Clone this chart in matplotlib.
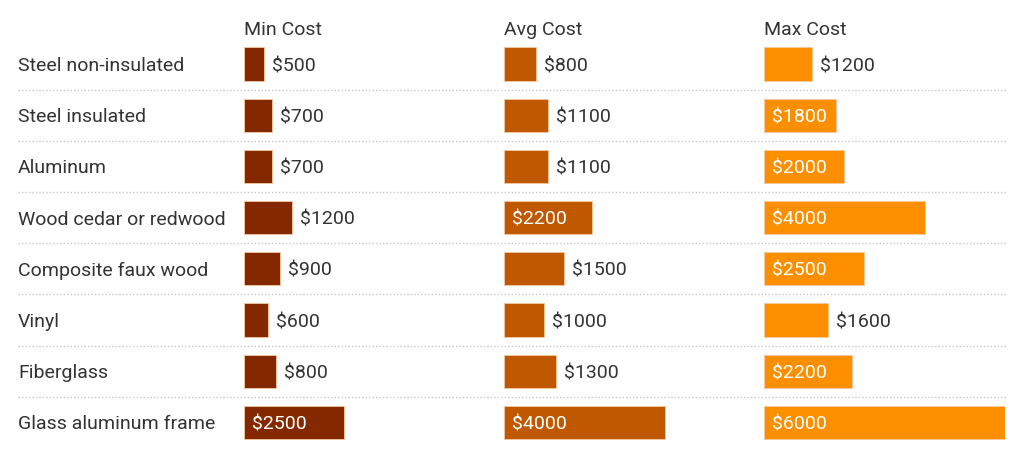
import matplotlib
matplotlib.use("Agg")
import matplotlib.pyplot as plt

categories = ["Steel non-insulated", "Steel insulated", "Aluminum",
              "Wood cedar or redwood", "Composite faux wood", "Vinyl",
              "Fiberglass", "Glass aluminum frame"]
min_cost = [500, 700, 700, 1200, 900, 600, 800, 2500]
avg_cost = [800, 1100, 1100, 2200, 1500, 1000, 1300, 4000]
max_cost = [1200, 1800, 2000, 4000, 2500, 1600, 2200, 6000]
headers = ["Min Cost", "Avg Cost", "Max Cost"]
colors = ["#842800", "#c05800", "#fb8f00"]

plt.rcParams["font.family"] = ["Roboto", "DejaVu Sans"]
TXT = "#333333"
FS = 14
W, H = 1024, 466
fig = plt.figure(figsize=(W / 100, H / 100), dpi=100)

n = len(categories)
row0, row_step = 64, 51.2
top_px = row0 - row_step / 2
bot_px = row0 + (n - 0.5) * row_step
dy = 0.04  # nudge text down so it sits centred on the bars


def rect(x0, x1):
    return [x0 / W, 1 - bot_px / H, (x1 - x0) / W, (bot_px - top_px) / H]


# background: row labels and dotted separators
bg = fig.add_axes(rect(18, 1006))
bg.set_xlim(0, 1)
bg.set_ylim(n - 0.5, -0.5)
bg.axis("off")
for i, c in enumerate(categories):
    bg.text(0, i + dy, c, ha="left", va="center", fontsize=FS, color=TXT)
for i in range(n - 1):
    bg.axhline(i + 0.5, color="#c8c8c8", linestyle=(0, (1, 1.5)), linewidth=1)

scale_max = 6000
panel_w = 241
for k, (vals, head, col) in enumerate(zip([min_cost, avg_cost, max_cost], headers, colors)):
    x0 = 244 + 260 * k
    ax = fig.add_axes(rect(x0, x0 + panel_w))
    ax.patch.set_alpha(0)
    ax.set_xlim(0, scale_max)
    ax.set_ylim(n - 0.5, -0.5)
    ax.axis("off")
    ax.barh(range(n), vals, height=0.65, color=col, edgecolor="#f3c9a0", linewidth=0.6)
    pad = 8 * scale_max / panel_w
    for i, v in enumerate(vals):
        if v > 1700:
            ax.text(pad, i + dy, f"${v}", ha="left", va="center", fontsize=FS,
                    color="white", clip_on=False)
        else:
            ax.text(v + pad, i + dy, f"${v}", ha="left", va="center", fontsize=FS,
                    color=TXT, clip_on=False)
    fig.text(x0 / W, 1 - 30 / H, head, ha="left", va="center", fontsize=FS, color=TXT)

fig.savefig("out.png", dpi=100)
